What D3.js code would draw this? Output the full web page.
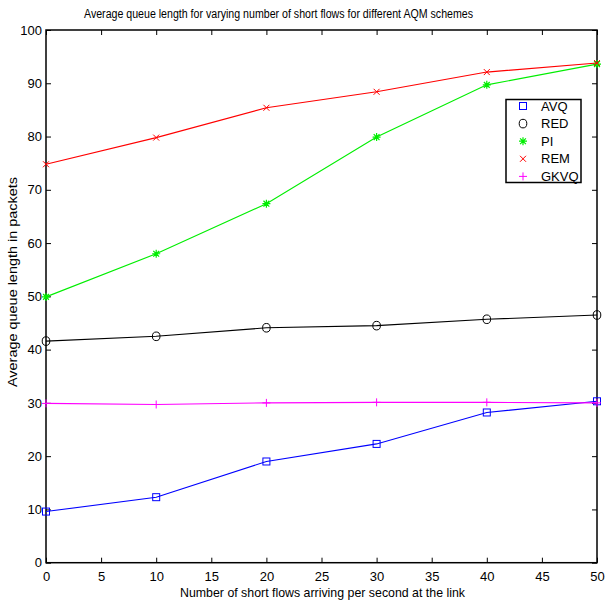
<!DOCTYPE html>
<html><head><meta charset="utf-8">
<script src="https://cdn.jsdelivr.net/npm/d3@7"></script>
<style>body{margin:0;background:#fff}svg{display:block}text{font-family:"Liberation Sans",Arial,sans-serif}</style>
</head><body>
<svg id="c" width="607" height="609"></svg>
<script>
const xValues = [0, 10, 20, 30, 40, 50];
const avq  = [9.6, 12.3, 19.0, 22.3, 28.2, 30.3];
const red  = [41.6, 42.5, 44.1, 44.5, 45.7, 46.5];
const pi   = [49.9, 58.0, 67.4, 79.9, 89.7, 93.6];
const rem  = [74.8, 79.8, 85.4, 88.4, 92.1, 93.8];
const gkvq = [29.9, 29.7, 30.0, 30.1, 30.1, 30.0];
const xTicks = [0, 5, 10, 15, 20, 25, 30, 35, 40, 45, 50];
const yTicks = [0, 10, 20, 30, 40, 50, 60, 70, 80, 90, 100];
const seriesNames = ["AVQ", "RED", "PI", "REM", "GKVQ"];
const titleText = "Average queue length for varying number of short flows for different AQM schemes";
const xLabel = "Number of short flows arriving per second at the link";
const yLabel = "Average queue length in packets";

const series = [
  {name: "AVQ", values: avq, color: "#0000ff", marker: "square"},
  {name: "RED", values: red, color: "#000000", marker: "circle"},
  {name: "PI", values: pi, color: "#00ee00", marker: "star"},
  {name: "REM", values: rem, color: "#ff0000", marker: "x"},
  {name: "GKVQ", values: gkvq, color: "#ff00ff", marker: "plus"}
];

const svg = d3.select("#c");
const L = 46, R = 597, T = 30, B = 562.7;
const x = d3.scaleLinear().domain([0, 50]).range([L, R]);
const y = d3.scaleLinear().domain([0, 100]).range([B, T]);

function styleAxis(g, labels) {
  g.select(".domain").remove();
  g.selectAll(".tick line").attr("stroke", "#000").attr("stroke-width", 1);
  g.selectAll(".tick text").attr("fill", "#000").style("font-size", "13px")
    .style("font-family", '"Liberation Sans",Arial,sans-serif');
  if (!labels) g.selectAll(".tick text").remove();
}
svg.append("g").attr("transform", `translate(0,${B})`)
  .call(d3.axisBottom(x).tickValues(xTicks).tickSize(-5).tickPadding(9).tickFormat(d3.format("d")))
  .call(g => styleAxis(g, true));
svg.append("g").attr("transform", `translate(0,${T})`)
  .call(d3.axisTop(x).tickValues(xTicks).tickSize(-5))
  .call(g => styleAxis(g, false));
svg.append("g").attr("transform", `translate(${L},0)`)
  .call(d3.axisLeft(y).tickValues(yTicks).tickSize(-5).tickPadding(4).tickFormat(d3.format("d")))
  .call(g => styleAxis(g, true));
svg.append("g").attr("transform", `translate(${R},0)`)
  .call(d3.axisRight(y).tickValues(yTicks).tickSize(-5))
  .call(g => styleAxis(g, false));

svg.append("rect").attr("x", L).attr("y", T).attr("width", R - L).attr("height", B - T)
  .attr("fill", "none").attr("stroke", "#000").attr("stroke-width", 1.5);

const line = d3.line().x((d, i) => x(xValues[i])).y(d => y(d));

function drawMarker(g, type, cx, cy, color) {
  if (type === "square") {
    g.append("rect").attr("x", cx - 3.5).attr("y", cy - 3.5).attr("width", 7).attr("height", 7)
      .attr("fill", "none").attr("stroke", color).attr("stroke-width", 1);
  } else if (type === "circle") {
    g.append("ellipse").attr("cx", cx).attr("cy", cy).attr("rx", 3.8).attr("ry", 4.3)
      .attr("fill", "none").attr("stroke", color).attr("stroke-width", 1);
  } else if (type === "x") {
    const s = 3;
    g.append("path").attr("d", `M${cx-s},${cy-s}L${cx+s},${cy+s}M${cx-s},${cy+s}L${cx+s},${cy-s}`)
      .attr("stroke", color).attr("stroke-width", 1);
  } else if (type === "plus") {
    const s = 4;
    g.append("path").attr("d", `M${cx-s},${cy}L${cx+s},${cy}M${cx},${cy-s}L${cx},${cy+s}`)
      .attr("stroke", color).attr("stroke-width", 1);
  } else if (type === "star") {
    const s = 4, d = 2.9;
    g.append("path").attr("d", `M${cx-s},${cy}L${cx+s},${cy}M${cx},${cy-s}L${cx},${cy+s}M${cx-d},${cy-d}L${cx+d},${cy+d}M${cx-d},${cy+d}L${cx+d},${cy-d}`)
      .attr("stroke", color).attr("stroke-width", 1.2);
  }
}

series.forEach(s => {
  const g = svg.append("g");
  g.append("path").datum(s.values).attr("d", line).attr("fill", "none")
    .attr("stroke", s.color).attr("stroke-width", 1.1);
  s.values.forEach((v, i) => drawMarker(g, s.marker, x(xValues[i]), y(v), s.color));
});

// legend
const lg = svg.append("g");
lg.append("rect").attr("x", 506).attr("y", 99.5).attr("width", 75).attr("height", 83)
  .attr("fill", "#fff").attr("stroke", "#000").attr("stroke-width", 1.5);
series.forEach((s, i) => {
  const cy = 106 + i * 17.6;
  drawMarker(lg, s.marker, 523, cy, s.color);
  lg.append("text").attr("x", 541).attr("y", cy).attr("dy", "0.36em")
    .style("font-size", "13px").attr("fill", "#000").text(seriesNames[i]);
});

svg.append("text").attr("x", 278.5).attr("y", 18).attr("text-anchor", "middle")
  .style("font-size", "12px").attr("textLength", 389).attr("lengthAdjust", "spacingAndGlyphs").text(titleText);
svg.append("text").attr("x", 322.5).attr("y", 597).attr("text-anchor", "middle")
  .style("font-size", "13px").attr("textLength", 285).attr("lengthAdjust", "spacingAndGlyphs").text(xLabel);
svg.append("text").attr("transform", "translate(17,282) rotate(-90)").attr("text-anchor", "middle")
  .style("font-size", "13px").attr("textLength", 210).attr("lengthAdjust", "spacingAndGlyphs").text(yLabel);
</script>
</body></html>
